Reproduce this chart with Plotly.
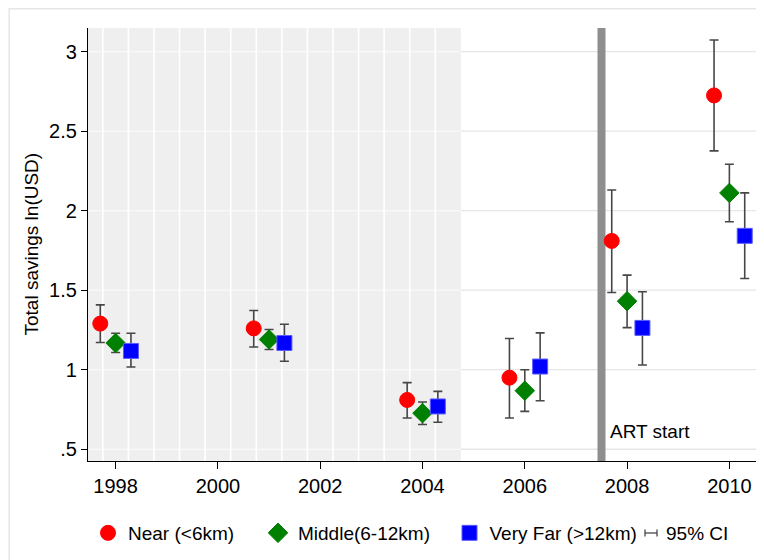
import plotly.graph_objects as go

# ---- data ----
years = [1998, 2001, 2004, 2006, 2008, 2010]

near = [1.29, 1.26, 0.81, 0.95, 1.81, 2.725]
near_lo = [1.171, 1.143, 0.696, 0.696, 1.486, 2.376]
near_hi = [1.408, 1.372, 0.919, 1.196, 2.130, 3.074]

middle = [1.168, 1.19, 0.727, 0.868, 1.431, 2.112]
middle_lo = [1.108, 1.127, 0.656, 0.738, 1.265, 1.931]
middle_hi = [1.229, 1.253, 0.797, 1.000, 1.595, 2.292]

far = [1.118, 1.168, 0.769, 1.020, 1.263, 1.842]
far_lo = [1.017, 1.053, 0.670, 0.805, 1.030, 1.574]
far_hi = [1.229, 1.286, 0.864, 1.232, 1.490, 2.112]

series_names = ["Near (<6km)", "Middle(6-12km)", "Very Far (>12km)"]
x_ticks = [1998, 2000, 2002, 2004, 2006, 2008, 2010]
y_ticks = [0.5, 1, 1.5, 2, 2.5, 3]
y_tick_text = [".5", "1", "1.5", "2", "2.5", "3"]
art_start = 2007.5
art_label = "ART start"
ci_label = "95% CI"
y_title = "Total savings ln(USD)"

# ---- styling ----
FONT = "Liberation Sans, Arial, Helvetica, sans-serif"
FS = 19
TICK_FS = 20
BODY = 8  # default page margin around the figure
W, H = 764 - BODY, 560 - BODY
ML, MR, MT, MB = 80, 7, 20, 99
PW, PH = W - ML - MR, H - MT - MB
X_RANGE = [1997.46, 2010.54]
Y_RANGE = [0.426, 3.149]
SHADE_END = 2004.75
DODGE = 0.3
ERR_COLOR = "#474747"


def px_x(p):
    """page pixel x -> paper coordinate"""
    return (p - BODY - ML) / PW


def px_y(p):
    """page pixel y -> paper coordinate"""
    return (H - MB - (p - BODY)) / PH


fig = go.Figure()

specs = [
    (near, near_lo, near_hi, -DODGE, "circle", "#ff0000", "#ff0000", "legend"),
    (middle, middle_lo, middle_hi, 0.0, "diamond", "#008000", "#008000", "legend2"),
    (far, far_lo, far_hi, DODGE, "square", "#0000ff", "#5a5aff", "legend3"),
]
for (vals, lo, hi, off, sym, col, lcol, leg), name in zip(specs, series_names):
    fig.add_trace(go.Scatter(
        x=[y + off for y in years],
        y=vals,
        mode="markers",
        name=name,
        legend=leg,
        marker=dict(symbol=sym, size=15, color=col, line=dict(color=lcol, width=1)),
        error_y=dict(
            type="data", symmetric=False,
            array=[h - v for h, v in zip(hi, vals)],
            arrayminus=[v - l for v, l in zip(vals, lo)],
            color=ERR_COLOR, thickness=1.6, width=4.5,
        ),
    ))

shapes = []
# shaded pre-period
shapes.append(dict(type="rect", xref="x", yref="y", x0=X_RANGE[0], x1=SHADE_END,
                   y0=Y_RANGE[0], y1=Y_RANGE[1], fillcolor="#efefef", line=dict(width=0), layer="below"))
# horizontal grid lines: light grey over white, near-white over the shading
for yv in y_ticks:
    shapes.append(dict(type="line", xref="x", yref="y", x0=SHADE_END, x1=X_RANGE[1], y0=yv, y1=yv,
                       line=dict(color="#e6e6e6", width=1.3), layer="below"))
    shapes.append(dict(type="line", xref="x", yref="y", x0=X_RANGE[0], x1=SHADE_END, y0=yv, y1=yv,
                       line=dict(color="#f8f8f8", width=1.5), layer="below"))
# white vertical lines inside the shaded area
xv = 1997.75
while xv < SHADE_END:
    shapes.append(dict(type="line", xref="x", yref="y", x0=xv, x1=xv, y0=Y_RANGE[0], y1=Y_RANGE[1],
                       line=dict(color="white", width=1.6), layer="below"))
    xv += 0.5
# ART start line
shapes.append(dict(type="line", xref="x", yref="y", x0=art_start, x1=art_start,
                   y0=Y_RANGE[0], y1=Y_RANGE[1],
                   line=dict(color="#8e8e8e", width=8), layer="below"))
# outer frame (top and left edges visible)
shapes.append(dict(type="line", xref="paper", yref="paper", x0=px_x(9), x1=px_x(780),
                   y0=px_y(8.7), y1=px_y(8.7), line=dict(color="#e6e6e6", width=1.5)))
shapes.append(dict(type="line", xref="paper", yref="paper", x0=px_x(9.2), x1=px_x(9.2),
                   y0=px_y(8), y1=px_y(580), line=dict(color="#e6e6e6", width=1.5)))
# CI legend glyph
gy = 533
shapes.append(dict(type="line", xref="paper", yref="paper", x0=px_x(645), x1=px_x(657),
                   y0=px_y(gy), y1=px_y(gy), line=dict(color=ERR_COLOR, width=1.3)))
for gx in (645, 657):
    shapes.append(dict(type="line", xref="paper", yref="paper", x0=px_x(gx), x1=px_x(gx),
                       y0=px_y(gy - 3.5), y1=px_y(gy + 3.5), line=dict(color=ERR_COLOR, width=1.3)))

annotations = [
    dict(text=art_label, xref="x", yref="paper", x=art_start, y=px_y(431), xanchor="left",
         yanchor="middle", xshift=6, showarrow=False, font=dict(family=FONT, size=FS, color="black")),
    dict(text=ci_label, xref="paper", yref="paper", x=px_x(664), y=px_y(gy), xanchor="left",
         yanchor="middle", showarrow=False, font=dict(family=FONT, size=FS, color="black")),
    dict(text=y_title, xref="paper", yref="paper", x=px_x(31), y=0.5, xanchor="center",
         yanchor="middle", textangle=-90, showarrow=False, font=dict(family=FONT, size=FS, color="black")),
]

leg_common = dict(orientation="h", yanchor="middle", y=px_y(gy), xanchor="left",
                  bgcolor="rgba(0,0,0,0)", borderwidth=0,
                  font=dict(family=FONT, size=FS, color="black"))

fig.update_layout(
    width=W, height=H,
    margin=dict(l=ML, r=MR, t=MT, b=MB, pad=0, autoexpand=False),
    paper_bgcolor="white", plot_bgcolor="white",
    font=dict(family=FONT, size=FS, color="black"),
    shapes=shapes, annotations=annotations,
    showlegend=True,
    legend=dict(x=px_x(88), **leg_common),
    legend2=dict(x=px_x(258), **leg_common),
    legend3=dict(x=px_x(449.5), **leg_common),
    xaxis=dict(range=X_RANGE, tickvals=x_ticks, showgrid=False, zeroline=False,
               showline=True, linecolor="black", linewidth=1.2,
               ticks="outside", ticklen=7, tickwidth=1.2, tickcolor="black",
               tickfont=dict(family=FONT, size=TICK_FS, color="black")),
    yaxis=dict(range=Y_RANGE, tickvals=y_ticks, ticktext=y_tick_text,
               showgrid=False, zeroline=False,
               showline=True, linecolor="black", linewidth=1.2,
               ticks="outside", ticklen=6, tickwidth=1.2, tickcolor="black",
               tickfont=dict(family=FONT, size=TICK_FS, color="black")),
)

fig.write_html("out.html")
